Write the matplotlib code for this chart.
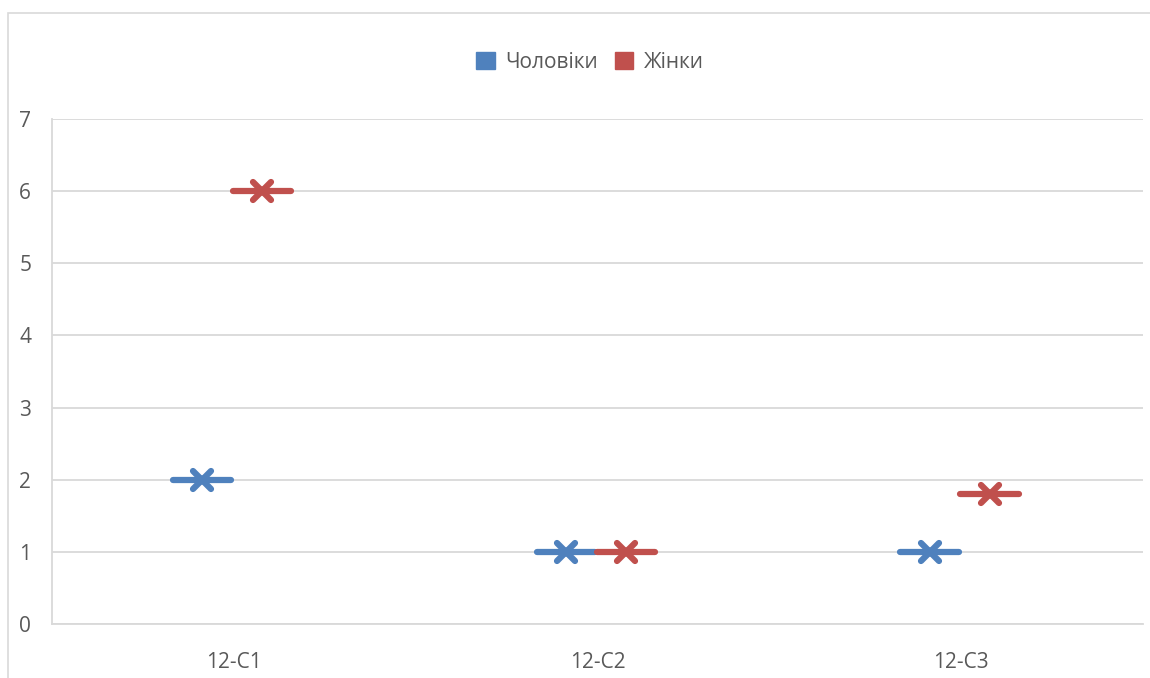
import matplotlib.pyplot as plt
from matplotlib.markers import MarkerStyle
from matplotlib.patches import Rectangle, Patch

groups = ['12-C1', '12-C2', '12-C3']
men = [2, 1, 1]
women = [6, 1, 1.8]
names = ['Чоловіки', 'Жінки']
colors = ['#4F81BD', '#C0504D']

plt.rcParams['font.family'] = ['Open Sans', 'DejaVu Sans']

fig = plt.figure(figsize=(11.5, 6.78), dpi=100)
ax = fig.add_axes([52 / 1150, 1 - 624 / 678, (1143 - 52) / 1150, (624 - 119) / 678])

# outer chart frame
fig.patches.append(Rectangle((8 / 1150, -0.1), 1.1, 1 - 13 / 678 + 0.1,
                             transform=fig.transFigure, fill=False,
                             edgecolor='#D9D9D9', linewidth=1.2))

xmark = MarkerStyle('x', capstyle='round')
half = 0.08
for series, col, shift in [(men, colors[0], -0.087), (women, colors[1], 0.078)]:
    for i, v in enumerate(series):
        xc = i + shift
        ax.plot([xc - half, xc + half], [v, v], color=col, lw=4.5,
                solid_capstyle='round', zorder=3)
        ax.plot([xc], [v], marker=xmark, color=col, markersize=13,
                markeredgewidth=4.5, zorder=4)

ax.set_xlim(-0.5, 2.5)
ax.set_ylim(0, 7)
ax.set_yticks(range(0, 8))
ax.set_xticks(range(len(groups)))
ax.set_xticklabels(groups)
ax.grid(axis='y', color='#D9D9D9', linewidth=1.3)
ax.set_axisbelow(True)
for s in ['top', 'right']:
    ax.spines[s].set_visible(False)
for s in ['left', 'bottom']:
    ax.spines[s].set_color('#D9D9D9')
    ax.spines[s].set_linewidth(1.3)
ax.tick_params(length=0, labelsize=15, colors='#595959')
ax.tick_params(axis='y', pad=15)
ax.tick_params(axis='x', pad=20)

handles = [Patch(facecolor=c, edgecolor=c) for c in colors]
fig.legend(handles, names, loc='center', bbox_to_anchor=(590 / 1150, 1 - 62 / 678),
           ncol=2, frameon=False, fontsize=15, labelcolor='#595959',
           handlelength=0.9, handleheight=0.9, handletextpad=0.5, columnspacing=0.8)

fig.savefig('out.png', dpi=100)
